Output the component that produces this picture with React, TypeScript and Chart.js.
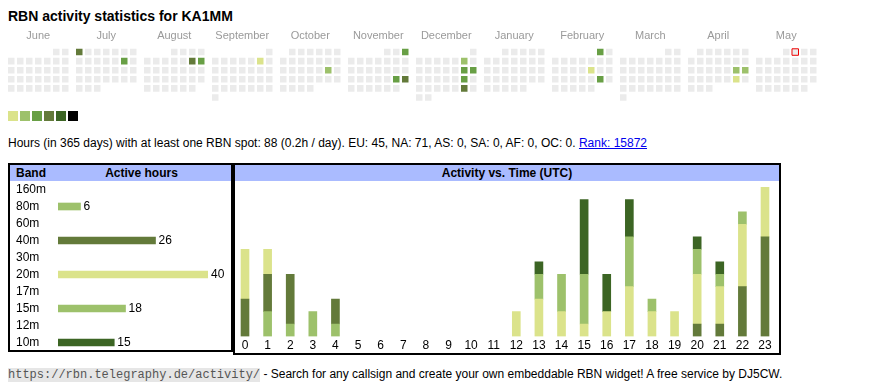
import React, { useEffect, useRef } from 'react';
import { Chart, registerables } from 'chart.js';

Chart.register(...registerables);

const FF = '"Liberation Sans", Arial, Helvetica, sans-serif';

// ---- Calendar heatmap data ----
const MONTHS = ['June', 'July', 'August', 'September', 'October', 'November', 'December', 'January', 'February', 'March', 'April', 'May'];
const FIRST_YEAR = 2024;
const FIRST_MONTH = 5; // June (0-based)
const ACTIVE_DAYS = [
  '2024-07-01', '2024-07-13', '2024-08-10', '2024-08-11', '2024-09-07', '2024-10-19',
  '2024-11-03', '2024-11-23', '2024-11-24', '2024-12-07', '2024-12-14', '2024-12-15',
  '2024-12-21', '2024-12-28', '2025-02-01', '2025-02-14', '2025-02-22', '2025-04-19',
  '2025-04-20', '2025-04-26',
];
const ACTIVE_LEVELS = [4, 3, 4, 3, 1, 2, 3, 3, 4, 2, 3, 3, 3, 4, 3, 1, 3, 2, 2, 1];
const TODAY = '2025-05-02';
const LEVEL_COLORS = ['#ebebeb', '#dbe38b', '#9dc16b', '#689f45', '#637a3a', '#3c6524', '#000000'];

// ---- Band statistics ----
const BANDS = ['160m', '80m', '60m', '40m', '30m', '20m', '17m', '15m', '12m', '10m'];
const BAND_HOURS = [0, 6, 0, 26, 0, 40, 0, 18, 0, 15];
const BAND_COLORS = ['#dbe38b', '#9dc16b', '#689f45', '#637a3a', '#dbe38b', '#dbe38b', '#9dc16b', '#9dc16b', '#689f45', '#3c6524'];

// ---- Activity vs. time (UTC) ----
const HOURS = ['0', '1', '2', '3', '4', '5', '6', '7', '8', '9', '10', '11', '12', '13', '14', '15', '16', '17', '18', '19', '20', '21', '22', '23'];
const HOURS_80M = [0, 2, 1, 2, 1, 0, 0, 0, 0, 0, 0, 0, 0, 0, 0, 0, 0, 0, 0, 0, 0, 0, 0, 0];
const HOURS_40M = [3, 3, 4, 0, 2, 0, 0, 0, 0, 0, 0, 0, 0, 0, 0, 0, 0, 0, 0, 0, 1, 1, 4, 8];
const HOURS_20M = [4, 2, 0, 0, 0, 0, 0, 0, 0, 0, 0, 0, 2, 3, 2, 1, 2, 4, 2, 2, 4, 3, 5, 4];
const HOURS_15M = [0, 0, 0, 0, 0, 0, 0, 0, 0, 0, 0, 0, 0, 2, 3, 4, 0, 4, 1, 0, 2, 1, 1, 0];
const HOURS_10M = [0, 0, 0, 0, 0, 0, 0, 0, 0, 0, 0, 0, 0, 1, 0, 6, 3, 3, 0, 0, 1, 1, 0, 0];

const BLOCK = 68 / 9; // month block width in cell units
const HM_W = 830;
const HM_H = 76;
const HM_MIN = -1.25;

const nz = (arr: number[]) => arr.map((v) => (v > 0 ? v : null));

function buildCells() {
  const pts: { x: number; y: number }[] = [];
  const colors: string[] = [];
  const borders: string[] = [];
  const bws: number[] = [];
  for (let m = 0; m < 12; m++) {
    const y = FIRST_YEAR + Math.floor((FIRST_MONTH + m) / 12);
    const mo = (FIRST_MONTH + m) % 12;
    const first = (new Date(y, mo, 1).getDay() + 6) % 7;
    const n = new Date(y, mo + 1, 0).getDate();
    for (let d = 1; d <= n; d++) {
      const idx = d - 1 + first;
      const key = `${y}-${String(mo + 1).padStart(2, '0')}-${String(d).padStart(2, '0')}`;
      const ai = ACTIVE_DAYS.indexOf(key);
      pts.push({ x: m * BLOCK + (idx % 7), y: Math.floor(idx / 7) });
      colors.push(LEVEL_COLORS[ai >= 0 ? ACTIVE_LEVELS[ai] : 0]);
      const t = key === TODAY;
      borders.push(t ? '#ee0000' : 'rgba(0,0,0,0)');
      bws.push(t ? 1 : 0);
    }
  }
  return { pts, colors, borders, bws };
}

const valueLabels = {
  id: 'valueLabels',
  afterDatasetsDraw(chart: any) {
    const ctx = chart.ctx;
    const meta = chart.getDatasetMeta(0);
    ctx.save();
    ctx.font = `12px ${FF}`;
    ctx.fillStyle = '#000';
    ctx.textBaseline = 'middle';
    ctx.textAlign = 'left';
    meta.data.forEach((el: any, i: number) => {
      const v = BAND_HOURS[i];
      if (v > 0) ctx.fillText(String(v), el.x + 3, el.y + 0.5);
    });
    ctx.restore();
  },
};

export default function App() {
  const hmRef = useRef<HTMLCanvasElement>(null);
  const bandRef = useRef<HTMLCanvasElement>(null);
  const timeRef = useRef<HTMLCanvasElement>(null);

  useEffect(() => {
    const cells = buildCells();
    const hm = new Chart(hmRef.current as HTMLCanvasElement, {
      type: 'scatter',
      data: {
        datasets: [
          {
            data: cells.pts,
            pointStyle: 'rect',
            pointRadius: 4.6,
            pointHoverRadius: 4.6,
            pointBackgroundColor: cells.colors,
            pointBorderColor: cells.borders,
            pointBorderWidth: cells.bws,
          } as any,
        ],
      },
      options: {
        animation: false,
        responsive: false,
        events: [],
        layout: { padding: 0, autoPadding: false } as any,
        plugins: { legend: { display: false }, tooltip: { enabled: false } },
        scales: {
          x: {
            type: 'linear',
            position: 'top',
            min: HM_MIN,
            max: HM_MIN + HM_W / 9,
            grid: { display: false, drawTicks: false },
            border: { display: false },
            afterFit: (s: any) => {
              s.height = 21.5;
              s.paddingLeft = 0;
              s.paddingRight = 0;
            },
            afterBuildTicks: (s: any) => {
              s.ticks = MONTHS.map((_, i) => ({ value: i * BLOCK + 3 }));
            },
            ticks: {
              autoSkip: false,
              maxRotation: 0,
              padding: 5,
              color: '#9a9a9a',
              font: { family: FF, size: 11 },
              callback: (_v: any, i: number) => MONTHS[i],
            },
          },
          y: { type: 'linear', min: -0.5, max: 5.5, reverse: true, display: false },
        },
      },
    });

    const band = new Chart(bandRef.current as HTMLCanvasElement, {
      type: 'bar',
      data: {
        labels: BANDS,
        datasets: [{ data: nz(BAND_HOURS), backgroundColor: BAND_COLORS, barThickness: 7, borderWidth: 0 }],
      },
      options: {
        indexAxis: 'y',
        animation: false,
        responsive: false,
        events: [],
        layout: { padding: { left: 0, right: 25, top: 0, bottom: 0 } },
        plugins: { legend: { display: false }, tooltip: { enabled: false } },
        scales: {
          x: { min: 0, max: 40, display: false },
          y: {
            grid: { display: false, drawTicks: false },
            border: { display: false },
            afterFit: (s: any) => {
              s.width = 42;
              s.paddingTop = 0;
              s.paddingBottom = 0;
            },
            ticks: { autoSkip: false, crossAlign: 'far', padding: 0, color: '#000', font: { family: FF, size: 12 } },
          },
        },
      },
      plugins: [valueLabels],
    });

    const mk = (label: string, data: number[], color: string) => ({
      label,
      data: nz(data),
      backgroundColor: color,
      barThickness: 8,
      borderWidth: 0,
    });
    const time = new Chart(timeRef.current as HTMLCanvasElement, {
      type: 'bar',
      data: {
        labels: HOURS,
        datasets: [
          mk('80m', HOURS_80M, '#9dc16b'),
          mk('40m', HOURS_40M, '#637a3a'),
          mk('20m', HOURS_20M, '#dbe38b'),
          mk('15m', HOURS_15M, '#9dc16b'),
          mk('10m', HOURS_10M, '#3c6524'),
        ],
      },
      options: {
        animation: false,
        responsive: false,
        events: [],
        layout: { padding: { left: 0.7, right: 4.7, top: 6, bottom: 0 } },
        plugins: { legend: { display: false }, tooltip: { enabled: false } },
        scales: {
          x: {
            stacked: true,
            grid: { display: false, drawTicks: false },
            border: { display: false },
            afterFit: (s: any) => {
              s.height = 16.5;
              s.paddingLeft = 0;
              s.paddingRight = 0;
            },
            ticks: { padding: 2, maxRotation: 0, autoSkip: false, color: '#000', font: { family: FF, size: 12 } },
          },
          y: { stacked: true, min: 0, max: 12, display: false },
        },
      },
    });

    return () => {
      hm.destroy();
      band.destroy();
      time.destroy();
    };
  }, []);

  const abs = (l: number, t: number, extra: React.CSSProperties = {}): React.CSSProperties => ({
    position: 'absolute',
    left: l,
    top: t,
    ...extra,
  });

  return (
    <div style={{ fontFamily: FF, color: '#000' }}>
      <div style={abs(8, 8, { fontSize: 14, fontWeight: 'bold', lineHeight: '16px', whiteSpace: 'nowrap' })}>
        RBN activity statistics for KA1MM
      </div>

      <canvas ref={hmRef} width={HM_W} height={HM_H} style={abs(0, 26, { width: HM_W, height: HM_H })} />

      {LEVEL_COLORS.slice(1).map((c, i) => (
        <div key={c} style={abs(8 + i * 12, 111, { width: 10, height: 10, background: c })} />
      ))}

      <div style={abs(8, 136, { fontSize: 12, lineHeight: '14px', whiteSpace: 'nowrap' })}>
        Hours (in 365 days) with at least one RBN spot: 88 (0.2h / day). EU: 45, NA: 71, AS: 0, SA: 0, AF: 0, OC: 0.{' '}
        <a href="#" style={{ color: '#0000ee', textDecoration: 'underline' }}>
          Rank: 15872
        </a>
      </div>

      {/* left box */}
      <div style={abs(8, 163, { width: 225, height: 189, border: '2px solid #000', boxSizing: 'border-box' })} />
      <div style={abs(10, 165, { width: 221, height: 16, background: '#aabbff' })} />
      <div style={abs(16, 165, { fontSize: 12, fontWeight: 'bold', lineHeight: '16px' })}>Band</div>
      <div style={abs(58, 165, { width: 167, textAlign: 'center', fontSize: 12, fontWeight: 'bold', lineHeight: '16px' })}>
        Active hours
      </div>
      <canvas ref={bandRef} width={217} height={170} style={abs(16, 181, { width: 217, height: 170 })} />

      {/* right box */}
      <div style={abs(233, 163, { width: 548, height: 192, border: '2px solid #000', boxSizing: 'border-box' })} />
      <div style={abs(235, 165, { width: 544, height: 16, background: '#aabbff' })} />
      <div style={abs(235, 165, { width: 544, textAlign: 'center', fontSize: 12, fontWeight: 'bold', lineHeight: '16px' })}>
        Activity vs. Time (UTC)
      </div>
      <canvas ref={timeRef} width={548} height={172} style={abs(233, 181, { width: 548, height: 172 })} />

      <div style={abs(8, 367, { fontSize: 12, lineHeight: '14px', whiteSpace: 'nowrap' })}>
        <span style={{ fontFamily: '"Liberation Mono", "Courier New", monospace', background: '#e6e6e6', color: '#555' }}>
          https://rbn.telegraphy.de/activity/
        </span>{' '}
        - Search for any callsign and create your own embeddable RBN widget! A free service by DJ5CW.
      </div>
    </div>
  );
}
